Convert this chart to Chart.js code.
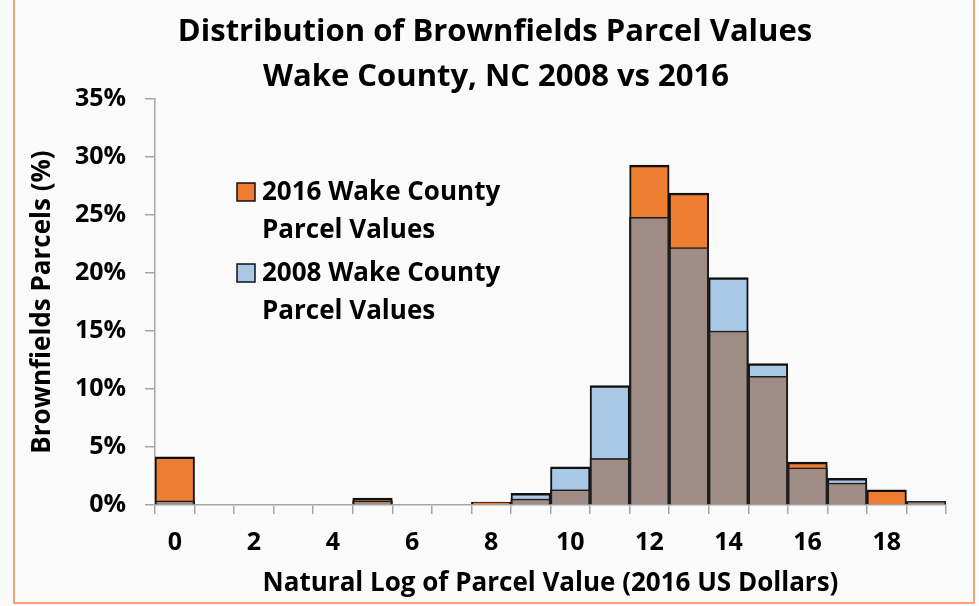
<!DOCTYPE html>
<html>
<head>
<meta charset="utf-8">
<script src="https://cdn.jsdelivr.net/npm/chart.js@4.4.0/dist/chart.umd.min.js"></script>
<style>
  html, body { margin: 0; padding: 0; background: #fafafa; }
</style>
</head>
<body>
<canvas id="histChart" width="979" height="606"></canvas>
<script>
// bins of ln(parcel value), percent of brownfields parcels
const bins = ["0","1","2","3","4","5","6","7","8","9","10","11","12","13","14","15","16","17","18","19"];
const values2016 = [4.15, 0, 0, 0, 0, 0.6, 0, 0, 0.25, 0.5, 1.3, 4.0, 29.3, 26.9, 15.0, 11.1, 3.7, 1.9, 1.3, 0.3];
const values2008 = [0.35, 0, 0, 0, 0, 0.35, 0, 0, 0, 1.0, 3.3, 10.3, 24.8, 22.2, 19.6, 12.2, 3.2, 2.3, 0, 0.3];
const yTicks = [0, 5, 10, 15, 20, 25, 30, 35];

const titleLines = ["Distribution of Brownfields Parcel Values", "Wake County, NC 2008 vs 2016"];
const seriesNames = ["2016 Wake County|Parcel Values", "2008 Wake County|Parcel Values"];

// the part both years share (drawn on top in grey-brown)
const shared = values2016.map((v, i) => Math.min(v, values2008[i]));

const FONT = "'Open Sans', sans-serif";
const ORANGE = "#ed7d31";
const BLUE = "#a8c8e6";
const OVERLAP = "#9e8c85";

// background + orange frame
const framePlugin = {
  id: "frame",
  beforeDraw(chart) {
    const c = chart.ctx;
    c.save();
    c.fillStyle = "#fafafa";
    c.fillRect(0, 0, chart.width, chart.height);
    c.restore();
  },
  afterDraw(chart) {
    const c = chart.ctx;
    c.save();
    c.strokeStyle = "#f4a46e";
    c.lineWidth = 2;
    c.beginPath();
    c.moveTo(14, 0);
    c.lineTo(14, 603);
    c.lineTo(974, 603);
    c.lineTo(974, 0);
    c.stroke();
    c.restore();
  }
};

// two-line title, centred a bit right of the canvas middle like the original
const titlePlugin = {
  id: "twoLineTitle",
  afterDraw(chart) {
    const c = chart.ctx;
    c.save();
    c.font = "bold 31px " + FONT;
    c.fillStyle = "#000";
    c.textAlign = "center";
    c.textBaseline = "middle";
    c.fillText(titleLines[0], 495, 32);
    c.fillText(titleLines[1], 496, 77);
    c.restore();
  }
};

// legend sits inside the plot, left of the peak
const legendPlugin = {
  id: "insideLegend",
  afterDatasetsDraw(chart) {
    const c = chart.ctx;
    const colors = [ORANGE, BLUE];
    const x0 = 237, y0 = 192, lineH = 38, gap = 81;
    c.save();
    c.font = "bold 26px " + FONT;
    c.textBaseline = "middle";
    seriesNames.forEach((name, i) => {
      const y = y0 + i * gap;
      c.fillStyle = colors[i];
      c.fillRect(x0, y - 9, 18, 18);
      c.strokeStyle = "#111";
      c.lineWidth = 1.5;
      c.strokeRect(x0, y - 9, 18, 18);
      c.fillStyle = "#000";
      const parts = name.split("|");
      c.fillText(parts[0], x0 + 25, y + 1);
      c.fillText(parts[1], x0 + 25, y + lineH + 1);
    });
    c.restore();
  }
};

const ctx = document.getElementById("histChart").getContext("2d");
new Chart(ctx, {
  type: "bar",
  data: {
    labels: bins,
    datasets: [
      {
        label: "shared",
        data: shared,
        backgroundColor: OVERLAP,
        borderColor: "#1c1c1c",
        borderWidth: (c) => {
          const i = c.dataIndex;
          const top = values2016[i] === values2008[i] ? 2.5 : 1.5;
          return { top: top, left: 2, right: 2, bottom: 0 };
        },
        borderSkipped: false
      },
      {
        label: "2016 Wake County Parcel Values",
        data: values2016,
        backgroundColor: ORANGE,
        borderColor: "#111",
        borderWidth: { top: 2.5, left: 2, right: 2, bottom: 0 },
        borderSkipped: false
      },
      {
        label: "2008 Wake County Parcel Values",
        data: values2008,
        backgroundColor: BLUE,
        borderColor: "#111",
        borderWidth: { top: 2.5, left: 2, right: 2, bottom: 0 },
        borderSkipped: false
      }
    ]
  },
  options: {
    responsive: false,
    animation: false,
    grouped: false,
    barPercentage: 1,
    categoryPercentage: 1,
    layout: { padding: { left: 20, right: 33, top: 99, bottom: 7 } },
    plugins: {
      legend: { display: false },
      tooltip: { enabled: false },
      title: { display: false }
    },
    scales: {
      x: {
        grid: {
          offset: true,
          drawOnChartArea: false,
          drawTicks: true,
          tickLength: 9,
          color: "#a6a6a6",
          lineWidth: 1.5
        },
        border: { color: "#a6a6a6", width: 1.5 },
        ticks: {
          autoSkip: false,
          maxRotation: 0,
          color: "#000",
          font: { family: FONT, size: 25, weight: "bold" },
          padding: 14,
          callback: (v, i) => (i % 2 === 0 ? bins[i] : "")
        },
        title: {
          display: true,
          text: "Natural Log of Parcel Value (2016 US Dollars)",
          color: "#000",
          font: { family: FONT, size: 26, weight: "bold" },
          padding: { top: 0, bottom: 0 }
        },
        afterFit: (s) => { s.height = 94; }
      },
      y: {
        min: 0,
        max: 35,
        afterBuildTicks: (s) => { s.ticks = yTicks.map(v => ({ value: v })); },
        grid: {
          drawOnChartArea: false,
          drawTicks: true,
          tickLength: 10,
          color: "#a6a6a6",
          lineWidth: 1.5
        },
        border: { color: "#a6a6a6", width: 1.5 },
        ticks: {
          color: "#000",
          font: { family: FONT, size: 25, weight: "bold" },
          padding: 19,
          callback: (v) => v + "%"
        },
        title: {
          display: true,
          text: "Brownfields Parcels (%)",
          color: "#000",
          font: { family: FONT, size: 26, weight: "bold" },
          padding: { top: 7, bottom: 0 }
        },
        afterFit: (s) => { s.width = 135; }
      }
    }
  },
  plugins: [framePlugin, titlePlugin, legendPlugin]
});
</script>
</body>
</html>
